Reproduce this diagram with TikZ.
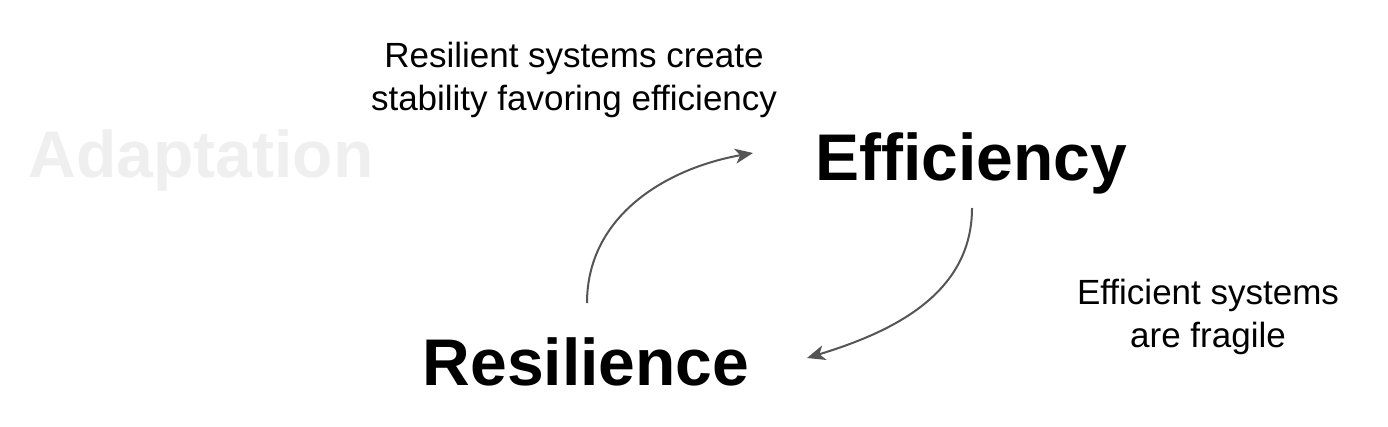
\documentclass[tikz,border=0pt]{standalone}
\usepackage{fontspec}
\setmainfont{Liberation Sans}
\usetikzlibrary{arrows.meta,calc}
\definecolor{ghost}{HTML}{EFEFEF}
\definecolor{arrowgray}{HTML}{555555}
\tikzset{
  bigword/.style={font=\fontsize{66}{70}\selectfont\bfseries, inner sep=0pt, anchor=base},
  note/.style={font=\fontsize{35}{43}\selectfont, align=center, inner sep=0pt, anchor=base},
  cyclearrow/.style={draw=arrowgray, line width=2pt, -{Stealth[length=18pt,width=15pt,inset=5pt]}}
}
\begin{document}
\begin{tikzpicture}[x=1pt,y=1pt]
\useasboundingbox[fill=white] (0,0) rectangle (1388,-426);
\node[bigword, text=ghost] (adapt) at (201,-177) {Adaptation};
\node[bigword] (eff) at (971,-180) {Efficiency};
\node[bigword] (res) at (586,-385) {Resilience};
\node[note] (topnote) at (574,-110) {Resilient systems create\\stability favoring efficiency};
\node[note] (rightnote) at (1208,-347) {Efficient systems\\are fragile};
\coordinate (a1s) at ($(res.base)+(1,82)$);
\coordinate (a1e) at ($(eff.base)+(-218,27)$);
\coordinate (a2s) at ($(eff.base)+(1,-28)$);
\coordinate (a2e) at ($(res.base)+(221,27)$);
\draw[cyclearrow] (a1s) to[out=90,in=190] (a1e);
\draw[cyclearrow] (a2s) to[out=-90,in=17] (a2e);
\end{tikzpicture}
\end{document}
